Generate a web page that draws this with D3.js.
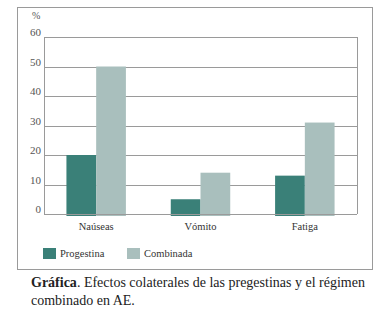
<!DOCTYPE html>
<html>
<head>
<meta charset="utf-8">
<script src="https://cdn.jsdelivr.net/npm/d3@7"></script>
<style>
  body { margin: 0; background: #fff; }
  svg { display: block; }
</style>
</head>
<body>
<div id="chart"></div>
<script>
const categories = ['Naúseas', 'Vómito', 'Fatiga'];
const seriesNames = ['Progestina', 'Combinada'];
const progestina = [20, 5, 13];
const combinada = [50, 14, 31];
const yTicks = [0, 10, 20, 30, 40, 50, 60];

const colors = { Progestina: '#3a8078', Combinada: '#a9bfbd' };
const font = 'Liberation Serif, serif';

const svg = d3.select('#chart').append('svg')
  .attr('width', 388).attr('height', 320)
  .attr('font-family', font);

// outer frame
svg.append('rect')
  .attr('x', 17.5).attr('y', 7.5).attr('width', 355).attr('height', 262)
  .attr('fill', 'none').attr('stroke', '#9a9a9a').attr('stroke-width', 1);

const plot = { left: 44, right: 357, top: 37, bottom: 214 };

const x = d3.scaleBand().domain(categories)
  .range([plot.left, plot.right]).paddingInner(0.43).paddingOuter(0.215);
const xs = d3.scaleBand().domain(seriesNames).range([0, x.bandwidth()]);
const y = d3.scaleLinear().domain([0, 60]).range([plot.bottom, plot.top]);

const rows = categories.map((c, i) => ({ cat: c, Progestina: progestina[i], Combinada: combinada[i] }));

// gridlines
svg.append('g').selectAll('line').data(yTicks).join('line')
  .attr('x1', plot.left).attr('x2', plot.right)
  .attr('y1', d => Math.round(y(d)) + 0.5).attr('y2', d => Math.round(y(d)) + 0.5)
  .attr('stroke', '#9a9a9a').attr('stroke-width', 1);

// side borders of plot box
[plot.left, plot.right].forEach(px => {
  svg.append('line')
    .attr('x1', px + 0.5).attr('x2', px + 0.5)
    .attr('y1', plot.top).attr('y2', plot.bottom)
    .attr('stroke', '#9a9a9a');
});

// bars
const g = svg.append('g');
rows.forEach(r => {
  seriesNames.forEach(s => {
    g.append('rect')
      .attr('x', x(r.cat) + xs(s))
      .attr('y', y(r[s]))
      .attr('width', xs.bandwidth())
      .attr('height', y(0) - y(r[s]) + 2)
      .attr('fill', colors[s]);
  });
});

// zero line over bars
svg.append('line')
  .attr('x1', plot.left).attr('x2', plot.right)
  .attr('y1', Math.round(y(0)) + 0.5).attr('y2', Math.round(y(0)) + 0.5)
  .attr('stroke', '#9a9a9a');

// y labels
svg.append('g').selectAll('text').data(yTicks).join('text')
  .attr('x', 41).attr('y', d => y(d) - 1)
  .attr('text-anchor', 'end')
  .attr('font-size', 11)
  .attr('fill', '#555')
  .text(d => d);

svg.append('text')
  .attr('x', 32).attr('y', 19)
  .attr('font-size', 10)
  .attr('fill', '#555')
  .text('%');

// x labels
svg.append('g').selectAll('text').data(categories).join('text')
  .attr('x', d => x(d) + x.bandwidth() / 2)
  .attr('y', 230)
  .attr('text-anchor', 'middle')
  .attr('font-size', 10.5)
  .attr('fill', '#333')
  .text(d => d);

// legend
const legendX = [43, 127];
seriesNames.forEach((s, i) => {
  svg.append('rect')
    .attr('x', legendX[i]).attr('y', 248)
    .attr('width', 13).attr('height', 11)
    .attr('fill', colors[s]);
  svg.append('text')
    .attr('x', legendX[i] + 17).attr('y', 257)
    .attr('font-size', 10.5)
    .attr('fill', '#333')
    .text(s);
});

// caption
const cap = svg.append('text')
  .attr('font-size', 14)
  .attr('fill', '#222');
const l1 = cap.append('tspan').attr('x', 31).attr('y', 287);
l1.append('tspan').attr('font-weight', 'bold').text('Gráfica');
l1.append('tspan').text('. Efectos colaterales de las pregestinas y el régimen');
cap.append('tspan').attr('x', 31).attr('y', 305).text('combinado en AE.');
</script>
</body>
</html>
